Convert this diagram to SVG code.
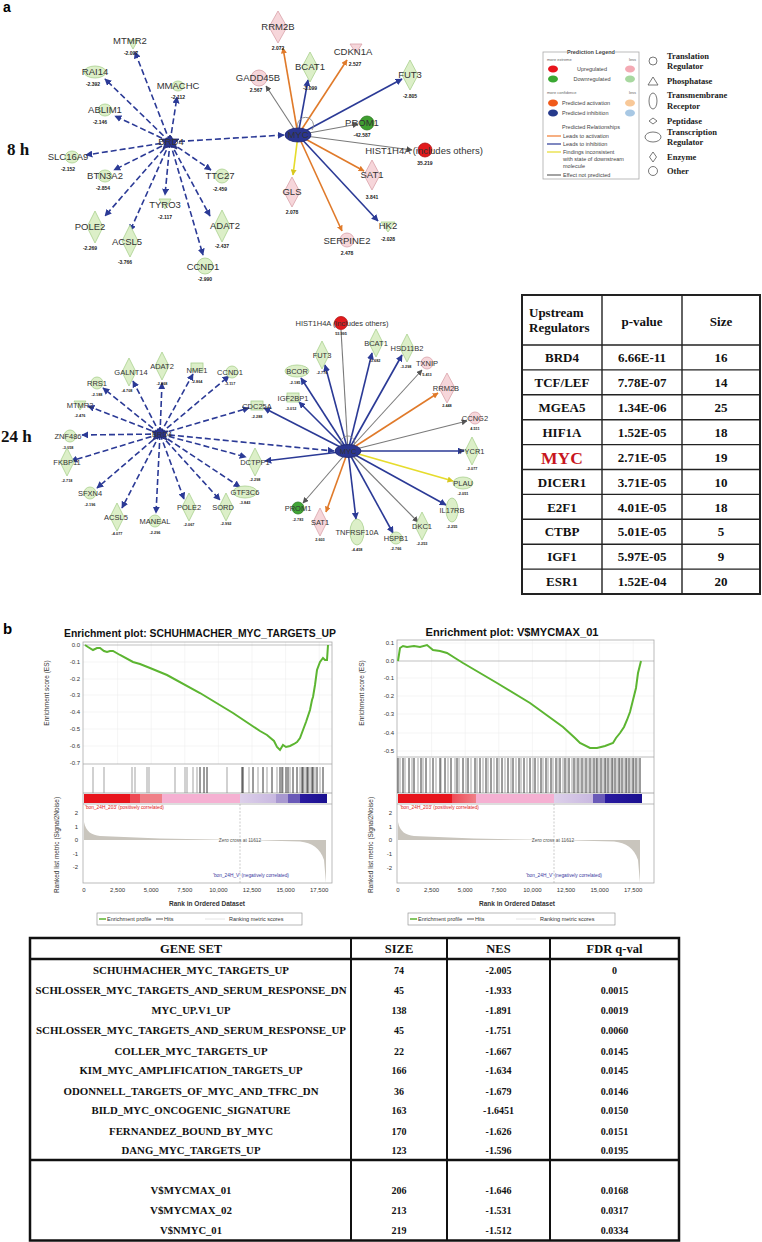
<svg xmlns="http://www.w3.org/2000/svg" width="762" height="1242" viewBox="0 0 762 1242">
<style>
.lbl{font-family:"Liberation Sans",Arial,sans-serif;font-size:9.5px;fill:#333;text-anchor:middle}
.val{font-family:"Liberation Sans",Arial,sans-serif;font-size:5px;font-weight:bold;fill:#222;text-anchor:middle}
.l24{font-family:"Liberation Sans",Arial,sans-serif;font-size:7.5px;fill:#333;text-anchor:middle}
.v24{font-family:"Liberation Sans",Arial,sans-serif;font-size:3.8px;font-weight:bold;fill:#222;text-anchor:middle}
.gn{fill:#dcefc8;stroke:#a9d08e;stroke-width:0.8}
.pk{fill:#f6d6da;stroke:#d9a2aa;stroke-width:0.8}
.hub{fill:#2a3590;stroke:#1c2570;stroke-width:0.8}
.ed{stroke:#2b3a96;stroke-width:1.6;stroke-dasharray:6 3;fill:none;marker-end:url(#ab)}
.eb{stroke:#2b3a96;stroke-width:1.6;fill:none;marker-end:url(#ab)}
.eg{stroke:#7a7a7a;stroke-width:1.1;fill:none;marker-end:url(#ag)}
.eo{stroke:#e07a2a;stroke-width:1.6;fill:none;marker-end:url(#ao)}
.ey{stroke:#e6dc2c;stroke-width:1.6;fill:none;marker-end:url(#ay)}
.big{font-family:"Liberation Serif","Times New Roman",serif;font-weight:bold;fill:#111}
.lg{font-family:"Liberation Sans",Arial,sans-serif;font-size:5.5px;fill:#444}
.lgs{font-family:"Liberation Sans",Arial,sans-serif;font-size:4px;fill:#666}
.sh{fill:none;stroke:#555;stroke-width:0.8}
.shl{font-family:"Liberation Serif","Times New Roman",serif;font-weight:bold;font-size:8.5px;fill:#222}
.tb{font-family:"Liberation Serif","Times New Roman",serif;font-weight:bold;fill:#111;text-anchor:middle}
.tk{font-family:"Liberation Sans",Arial,sans-serif;font-size:6px;fill:#333}
.ax{font-family:"Liberation Sans",Arial,sans-serif;font-size:6.5px;fill:#333;text-anchor:middle}
.ttl{font-family:"Liberation Sans",Arial,sans-serif;font-size:11px;font-weight:bold;fill:#111;text-anchor:middle}
.frame{fill:none;stroke:#aaa;stroke-width:0.8}
.grid{stroke:#eee;stroke-width:0.6}
</style>
<defs>
<marker id="ab" viewBox="0 0 10 10" refX="9" refY="5" markerWidth="7" markerHeight="7" orient="auto" markerUnits="userSpaceOnUse"><path d="M0,0L10,5L0,10z" fill="#2b3a96"/></marker>
<marker id="ag" viewBox="0 0 10 10" refX="9" refY="5" markerWidth="6" markerHeight="6" orient="auto" markerUnits="userSpaceOnUse"><path d="M0,0L10,5L0,10z" fill="#555"/></marker>
<marker id="ao" viewBox="0 0 10 10" refX="9" refY="5" markerWidth="6" markerHeight="6" orient="auto" markerUnits="userSpaceOnUse"><path d="M0,0L10,5L0,10z" fill="#e07a2a"/></marker>
<marker id="ay" viewBox="0 0 10 10" refX="9" refY="5" markerWidth="6" markerHeight="6" orient="auto" markerUnits="userSpaceOnUse"><path d="M0,0L10,5L0,10z" fill="#d8c820"/></marker>
<linearGradient id="barL" x1="0" x2="1" y1="0" y2="0">
<stop offset="0" stop-color="#e8141c"/><stop offset="0.19" stop-color="#e8141c"/><stop offset="0.19" stop-color="#ee4a55"/><stop offset="0.23" stop-color="#ee4a55"/><stop offset="0.23" stop-color="#f08088"/><stop offset="0.32" stop-color="#f08088"/><stop offset="0.32" stop-color="#f5b0d2"/><stop offset="0.64" stop-color="#f5b0d2"/><stop offset="0.64" stop-color="#ddd0ea"/><stop offset="0.79" stop-color="#c8b8e0"/><stop offset="0.79" stop-color="#a898d0"/><stop offset="0.84" stop-color="#a898d0"/><stop offset="0.84" stop-color="#6a5ab8"/><stop offset="0.89" stop-color="#6a5ab8"/><stop offset="0.89" stop-color="#2a1aa0"/><stop offset="1" stop-color="#1a1090"/>
</linearGradient>
<linearGradient id="barR" x1="0" x2="1" y1="0" y2="0">
<stop offset="0" stop-color="#e8141c"/><stop offset="0.22" stop-color="#e8141c"/><stop offset="0.22" stop-color="#ee4a55"/><stop offset="0.32" stop-color="#f08088"/><stop offset="0.32" stop-color="#f5b0d2"/><stop offset="0.64" stop-color="#f5b0d2"/><stop offset="0.64" stop-color="#ddd0ea"/><stop offset="0.8" stop-color="#c8b8e0"/><stop offset="0.8" stop-color="#6a5ab8"/><stop offset="0.85" stop-color="#6a5ab8"/><stop offset="0.85" stop-color="#2a1aa0"/><stop offset="1" stop-color="#1a1090"/>
</linearGradient>
</defs>
<rect width="762" height="1242" fill="#fff"/>

<!-- panel labels -->
<text x="3" y="12" font-family="Liberation Sans, Arial, sans-serif" font-size="14" font-weight="bold">a</text>
<text x="7" y="155" class="big" font-size="17">8 h</text>
<text x="1" y="442" class="big" font-size="17">24 h</text>
<text x="3" y="634" font-family="Liberation Sans, Arial, sans-serif" font-size="15" font-weight="bold">b</text>

<!-- ===== connectors ===== -->
<g id="connectors">
<!-- 8h BRD4 -->
<line class="ed" x1="170" y1="142" x2="135" y2="52"/>
<line class="ed" x1="170" y1="142" x2="105" y2="79"/>
<line class="ed" x1="170" y1="142" x2="177" y2="97"/>
<line class="ed" x1="170" y1="142" x2="115" y2="116"/>
<line class="ed" x1="170" y1="142" x2="86" y2="155"/>
<line class="ed" x1="170" y1="142" x2="114" y2="170"/>
<line class="ed" x1="170" y1="142" x2="165" y2="195"/>
<line class="ed" x1="170" y1="142" x2="105" y2="216"/>
<line class="ed" x1="170" y1="142" x2="130" y2="231"/>
<line class="ed" x1="170" y1="142" x2="210" y2="216"/>
<line class="ed" x1="170" y1="142" x2="203" y2="255"/>
<line class="ed" x1="170" y1="142" x2="211" y2="170"/>
<line class="ed" x1="170" y1="142" x2="284" y2="135"/>
<!-- 8h MYC -->
<line class="eo" x1="298" y1="135" x2="283" y2="48"/>
<line class="eo" x1="298" y1="135" x2="347" y2="60"/>
<line class="eg" x1="298" y1="135" x2="266" y2="86"/>
<line class="eb" x1="298" y1="135" x2="308" y2="80"/>
<line class="eb" x1="298" y1="135" x2="402" y2="79"/>
<line class="eg" x1="298" y1="135" x2="358" y2="124"/>
<line class="eg" x1="298" y1="135" x2="412" y2="150"/>
<line class="eo" x1="298" y1="135" x2="364" y2="171"/>
<line class="ey" x1="298" y1="135" x2="293" y2="175"/>
<line class="eb" x1="298" y1="135" x2="378" y2="221"/>
<line class="eo" x1="298" y1="135" x2="342" y2="231"/>
<path d="M299,130 A8,8 0 1 1 312,130" fill="none" stroke="#888" stroke-width="0.9"/>
<!-- 24h BRD4 -->
<line class="ed" x1="160" y1="434" x2="103" y2="388"/>
<line class="ed" x1="160" y1="434" x2="133" y2="381"/>
<line class="ed" x1="160" y1="434" x2="162" y2="383"/>
<line class="ed" x1="160" y1="434" x2="193" y2="374"/>
<line class="ed" x1="160" y1="434" x2="229" y2="376"/>
<line class="ed" x1="160" y1="434" x2="88" y2="406"/>
<line class="ed" x1="160" y1="434" x2="249" y2="408"/>
<line class="ed" x1="160" y1="434" x2="82" y2="435"/>
<line class="ed" x1="160" y1="434" x2="71" y2="461"/>
<line class="ed" x1="160" y1="434" x2="246" y2="457"/>
<line class="ed" x1="160" y1="434" x2="97" y2="488"/>
<line class="ed" x1="160" y1="434" x2="240" y2="487"/>
<line class="ed" x1="160" y1="434" x2="122" y2="508"/>
<line class="ed" x1="160" y1="434" x2="156" y2="513"/>
<line class="ed" x1="160" y1="434" x2="184" y2="499"/>
<line class="ed" x1="160" y1="434" x2="220" y2="500"/>
<line class="ed" x1="160" y1="434" x2="334" y2="451"/>
<!-- 24h MYC -->
<line class="eb" x1="348" y1="451" x2="264" y2="408"/>
<line class="eb" x1="348" y1="451" x2="265" y2="461"/>
<line x1="348" y1="451" x2="341" y2="330" stroke="#7a7a7a" stroke-width="1.1"/>
<line class="eb" x1="348" y1="451" x2="372" y2="353"/>
<line class="eb" x1="348" y1="451" x2="402" y2="355"/>
<line class="eb" x1="348" y1="451" x2="325" y2="365"/>
<line class="eg" x1="348" y1="451" x2="422" y2="370"/>
<line class="eb" x1="348" y1="451" x2="301" y2="378"/>
<line class="eo" x1="348" y1="451" x2="438" y2="393"/>
<line class="eb" x1="348" y1="451" x2="299" y2="402"/>
<line class="eg" x1="348" y1="451" x2="467" y2="421"/>
<line class="eb" x1="348" y1="451" x2="464" y2="451"/>
<line class="ey" x1="348" y1="451" x2="453" y2="481"/>
<line class="eb" x1="348" y1="451" x2="446" y2="505"/>
<line class="eg" x1="348" y1="451" x2="418" y2="522"/>
<line class="eb" x1="348" y1="451" x2="393" y2="533"/>
<line class="eb" x1="348" y1="451" x2="356" y2="519"/>
<line class="eo" x1="348" y1="451" x2="326" y2="512"/>
<line class="eg" x1="348" y1="451" x2="303" y2="503"/>
<path d="M342,447 A7,7 0 1 1 354,446" fill="none" stroke="#888" stroke-width="0.9"/>
</g>

<!-- ===== 8h nodes ===== -->
<g id="n8-BRD4"><path class="hub" d="M170,135 L173,139 L179,139 L175,143 L177,149 L170,146 L163,149 L165,143 L161,139 L167,139Z"/><text class="lbl" x="171" y="145" fill="#223">BRD4</text></g>
<g id="n8-MTMR2"><path class="gn" d="M128,40 L138,40 L133,49Z"/><text class="lbl" x="130" y="44">MTMR2</text><text class="val" x="131" y="55">-2.097</text></g>
<g id="n8-RAI14"><ellipse class="gn" cx="95" cy="72" rx="11" ry="6"/><text class="lbl" x="95" y="75">RAI14</text><text class="val" x="93" y="86">-2.392</text></g>
<g id="n8-MMACHC"><ellipse class="gn" cx="178" cy="86" rx="6" ry="5"/><text class="lbl" x="178" y="89">MMACHC</text><text class="val" x="178" y="99">-2.112</text></g>
<g id="n8-ABLIM1"><ellipse class="gn" cx="105" cy="110" rx="7" ry="6"/><text class="lbl" x="105" y="113">ABLIM1</text><text class="val" x="100" y="124">-2.146</text></g>
<g id="n8-SLC16A9"><ellipse class="gn" cx="72" cy="157" rx="7" ry="6"/><text class="lbl" x="68" y="160">SLC16A9</text><text class="val" x="68" y="171">-2.152</text></g>
<g id="n8-BTN3A2"><ellipse class="gn" cx="105" cy="176" rx="7" ry="6"/><text class="lbl" x="105" y="179">BTN3A2</text><text class="val" x="103" y="190">-2.854</text></g>
<g id="n8-TTC27"><circle class="gn" cx="222" cy="176" r="7"/><text class="lbl" x="220" y="179">TTC27</text><text class="val" x="220" y="191">-2.459</text></g>
<g id="n8-TYRO3"><path class="gn" d="M159,199 L171,199 L165,209Z"/><text class="lbl" x="165" y="208">TYRO3</text><text class="val" x="165" y="219">-2.117</text></g>
<g id="n8-POLE2"><polygon class="gn" points="95,211 103,227 95,243 87,227"/><text class="lbl" x="90" y="230">POLE2</text><text class="val" x="90" y="250">-2.269</text></g>
<g id="n8-ACSL5"><polygon class="gn" points="130,225 138,241 130,257 122,241"/><text class="lbl" x="127" y="245">ACSL5</text><text class="val" x="125" y="264">-3.766</text></g>
<g id="n8-ADAT2"><polygon class="gn" points="222,210 230,226 222,242 214,226"/><text class="lbl" x="225" y="229">ADAT2</text><text class="val" x="222" y="248">-2.437</text></g>
<g id="n8-CCND1"><circle class="gn" cx="205" cy="266" r="8"/><text class="lbl" x="203" y="270">CCND1</text><text class="val" x="205" y="281">-2.990</text></g>

<g id="n8-MYC"><ellipse class="hub" cx="298" cy="135" rx="13" ry="7"/><text class="lbl" x="298" y="138" fill="#111">MYC</text></g>
<g id="n8-RRM2B"><polygon class="pk" points="278,11 287,27 278,43 269,27"/><text class="lbl" x="278" y="30">RRM2B</text><text class="val" x="278" y="50">2.072</text></g>
<g id="n8-CDKN1A"><path class="pk" d="M350,44 L362,44 L356,53Z"/><text class="lbl" x="353" y="55">CDKN1A</text><text class="val" x="355" y="66">2.527</text></g>
<g id="n8-GADD45B"><circle class="pk" cx="259" cy="78" r="8"/><text class="lbl" x="258" y="81">GADD45B</text><text class="val" x="256" y="92">2.567</text></g>
<g id="n8-BCAT1"><polygon class="gn" points="310,52 318,67 310,82 302,67"/><text class="lbl" x="310" y="70">BCAT1</text><text class="val" x="310" y="90">-3.099</text></g>
<g id="n8-FUT3"><polygon class="gn" points="410,60 418,75 410,90 402,75"/><text class="lbl" x="410" y="78">FUT3</text><text class="val" x="410" y="98">-2.805</text></g>
<g id="n8-PROM1"><circle cx="367" cy="123" r="7" fill="#3f9f30" stroke="#2c7a20" stroke-width="0.8"/><text class="lbl" x="362" y="126">PROM1</text><text class="val" x="362" y="137">-42.587</text></g>
<g id="n8-HIST1H4A"><circle cx="425" cy="150" r="7" fill="#e21a1c" stroke="#b01010" stroke-width="0.8"/><text class="lbl" x="424" y="154">HIST1H4A (includes others)</text><text class="val" x="425" y="165">35.219</text></g>
<g id="n8-SAT1"><polygon class="pk" points="372,160 380,175 372,190 364,175"/><text class="lbl" x="372" y="178">SAT1</text><text class="val" x="372" y="199">3.841</text></g>
<g id="n8-GLS"><polygon class="pk" points="292,177 300,192 292,207 284,192"/><text class="lbl" x="292" y="195">GLS</text><text class="val" x="292" y="214">2.078</text></g>
<g id="n8-HK2"><path class="gn" d="M381,222 L395,222 L388,232Z"/><text class="lbl" x="388" y="229">HK2</text><text class="val" x="388" y="241">-2.028</text></g>
<g id="n8-SERPINE2"><circle class="pk" cx="347" cy="240" r="7"/><text class="lbl" x="347" y="244">SERPINE2</text><text class="val" x="347" y="255">2.478</text></g>

<!-- ===== IPA legend ===== -->
<g id="legend">
<rect x="543" y="52" width="96" height="127" fill="#fff" stroke="#aaa" stroke-width="0.8"/>
<rect x="567" y="49" width="48" height="6" fill="#fff"/>
<text x="591" y="54" class="lg" text-anchor="middle" font-weight="bold">Prediction Legend</text>
<text x="547" y="61" class="lgs">more extreme</text><text x="629" y="61" class="lgs">less</text>
<ellipse cx="553" cy="69" rx="5" ry="3.5" fill="#e8141c"/><text x="592" y="71" class="lg" text-anchor="middle">Upregulated</text><ellipse cx="630" cy="69" rx="5" ry="3.5" fill="#f4aab4"/>
<ellipse cx="553" cy="79" rx="5" ry="3.5" fill="#3aa832"/><text x="592" y="81" class="lg" text-anchor="middle">Downregulated</text><ellipse cx="630" cy="79" rx="5" ry="3.5" fill="#a8d8a0"/>
<text x="547" y="94" class="lgs">more confidence</text><text x="629" y="94" class="lgs">less</text>
<ellipse cx="553" cy="103" rx="5" ry="3.5" fill="#f05a1a"/><text x="562" y="105" class="lg">Predicted activation</text><ellipse cx="630" cy="103" rx="5" ry="3.5" fill="#f8c898"/>
<ellipse cx="553" cy="113" rx="5" ry="3.5" fill="#263a8c"/><text x="562" y="115" class="lg">Predicted inhibition</text><ellipse cx="630" cy="113" rx="5" ry="3.5" fill="#a8c8e4"/>
<text x="591" y="129" class="lg" text-anchor="middle">Predicted Relationships</text>
<line x1="547" y1="136" x2="561" y2="136" stroke="#f07a30" stroke-width="1.2"/><text x="563" y="138" class="lg">Leads to activation</text>
<line x1="547" y1="144" x2="561" y2="144" stroke="#2b3a96" stroke-width="1.2"/><text x="563" y="146" class="lg">Leads to inhibition</text>
<line x1="547" y1="152" x2="561" y2="152" stroke="#e6dc2c" stroke-width="1.2"/><text x="563" y="154" class="lg">Findings inconsistent</text>
<text x="563" y="161" class="lg">with state of downstream</text><text x="563" y="168" class="lg">molecule</text>
<line x1="547" y1="175" x2="561" y2="175" stroke="#666" stroke-width="1.2"/><text x="563" y="177" class="lg">Effect not predicted</text>
</g>
<g id="shape-legend">
<circle class="sh" cx="653" cy="61" r="4"/><text class="shl" x="667" y="59">Translation</text><text class="shl" x="667" y="69">Regulator</text>
<path class="sh" d="M648,85 L658,85 L653,77Z"/><text class="shl" x="667" y="84">Phosphatase</text>
<ellipse class="sh" cx="653" cy="101" rx="4" ry="8"/><text class="shl" x="667" y="98">Transmembrane</text><text class="shl" x="667" y="109">Receptor</text>
<path class="sh" d="M649,121 L653,118 L657,121 L653,124Z"/><text class="shl" x="667" y="124">Peptidase</text>
<ellipse class="sh" cx="653" cy="137" rx="8" ry="5"/><text class="shl" x="667" y="135">Transcription</text><text class="shl" x="667" y="145">Regulator</text>
<path class="sh" d="M653,152 L656.5,157 L653,162 L649.5,157Z"/><text class="shl" x="667" y="160">Enzyme</text>
<circle class="sh" cx="653" cy="171" r="4.5"/><text class="shl" x="667" y="174">Other</text>
</g>

<!-- ===== 24h nodes ===== -->
<g id="n24-BRD4"><path class="hub" d="M160,427 L163,431 L168,431 L165,435 L167,440 L160,437 L153,440 L155,435 L152,431 L157,431Z"/><text class="l24" x="162" y="437">BRD4</text></g>
<g id="n24-RRS1"><circle class="gn" cx="97" cy="383" r="6"/><text class="l24" x="97" y="386">RRS1</text><text class="v24" x="97" y="396">-2.188</text></g>
<g id="n24-GALNT14"><polygon class="gn" points="129,358 136,372 129,386 122,372"/><text class="l24" x="131" y="375">GALNT14</text><text class="v24" x="127" y="392">-4.708</text></g>
<g id="n24-ADAT2"><polygon class="gn" points="162,352 169,366 162,380 155,366"/><text class="l24" x="162" y="369">ADAT2</text><text class="v24" x="162" y="385">-2.868</text></g>
<g id="n24-NME1"><rect class="gn" x="191" y="363" width="12" height="8"/><text class="l24" x="197" y="373">NME1</text><text class="v24" x="197" y="383">-2.864</text></g>
<g id="n24-CCND1"><circle class="gn" cx="232" cy="372" r="6"/><text class="l24" x="230" y="375">CCND1</text><text class="v24" x="230" y="385">-3.117</text></g>
<g id="n24-MTMR2"><path class="gn" d="M74,401 L86,401 L80,410Z"/><text class="l24" x="80" y="408">MTMR2</text><text class="v24" x="80" y="417">-2.476</text></g>
<g id="n24-CDC25A"><rect class="gn" x="251" y="401" width="12" height="9"/><text class="l24" x="257" y="409">CDC25A</text><text class="v24" x="257" y="418">-2.288</text></g>
<g id="n24-ZNF486"><circle class="gn" cx="70" cy="436" r="6"/><text class="l24" x="68" y="439">ZNF486</text><text class="v24" x="68" y="449">-3.058</text></g>
<g id="n24-FKBP11"><polygon class="gn" points="67,448 74,462 67,476 60,462"/><text class="l24" x="67" y="465">FKBP11</text><text class="v24" x="67" y="482">-2.718</text></g>
<g id="n24-DCTPP1"><polygon class="gn" points="255,448 262,462 255,476 248,462"/><text class="l24" x="255" y="465">DCTPP1</text><text class="v24" x="255" y="481">-2.298</text></g>
<g id="n24-SFXN4"><circle class="gn" cx="90" cy="493" r="6"/><text class="l24" x="90" y="496">SFXN4</text><text class="v24" x="90" y="506">-2.196</text></g>
<g id="n24-GTF3C6"><ellipse class="gn" cx="245" cy="492" rx="12" ry="6"/><text class="l24" x="245" y="495">GTF3C6</text><text class="v24" x="245" y="504">-3.843</text></g>
<g id="n24-ACSL5"><polygon class="gn" points="117,503 124,517 117,531 110,517"/><text class="l24" x="116" y="520">ACSL5</text><text class="v24" x="117" y="535">-4.077</text></g>
<g id="n24-MANEAL"><circle class="gn" cx="155" cy="521" r="6"/><text class="l24" x="155" y="524">MANEAL</text><text class="v24" x="155" y="534">-2.296</text></g>
<g id="n24-POLE2"><polygon class="gn" points="189,493 196,507 189,521 182,507"/><text class="l24" x="189" y="510">POLE2</text><text class="v24" x="189" y="526">-2.067</text></g>
<g id="n24-SORD"><polygon class="gn" points="226,493 233,507 226,521 219,507"/><text class="l24" x="223" y="510">SORD</text><text class="v24" x="226" y="525">-2.992</text></g>

<g id="n24-MYC"><ellipse class="hub" cx="348" cy="451" rx="13" ry="6.5"/><text class="l24" x="348" y="454" fill="#111">MYC</text></g>
<g id="n24-HIST1H4A"><circle cx="341" cy="323" r="6.5" fill="#e21a1c" stroke="#b01010" stroke-width="0.8"/><text class="l24" x="342" y="326">HIST1H4A (includes others)</text><text class="v24" x="341" y="335">53.995</text></g>
<g id="n24-BCAT1"><polygon class="gn" points="376,329 383,343 376,357 369,343"/><text class="l24" x="376" y="346">BCAT1</text><text class="v24" x="375" y="362">-3.682</text></g>
<g id="n24-HSD11B2"><polygon class="gn" points="407,334 414,348 407,362 400,348"/><text class="l24" x="407" y="351">HSD11B2</text><text class="v24" x="406" y="368">-3.298</text></g>
<g id="n24-FUT3"><polygon class="gn" points="322,341 329,355 322,369 315,355"/><text class="l24" x="322" y="358">FUT3</text><text class="v24" x="322" y="374">-2.776</text></g>
<g id="n24-TXNIP"><circle class="pk" cx="427" cy="363" r="6"/><text class="l24" x="427" y="366">TXNIP</text><text class="v24" x="427" y="376">5.413</text></g>
<g id="n24-BCOR"><ellipse class="gn" cx="297" cy="371" rx="12" ry="6"/><text class="l24" x="297" y="374">BCOR</text><text class="v24" x="295" y="384">-2.185</text></g>
<g id="n24-RRM2B"><polygon class="pk" points="447,373 455,388 447,403 439,388"/><text class="l24" x="446" y="391">RRM2B</text><text class="v24" x="447" y="407">2.448</text></g>
<g id="n24-IGF2BP1"><rect class="gn" x="287" y="393" width="12" height="9"/><text class="l24" x="293" y="401">IGF2BP1</text><text class="v24" x="291" y="410">-3.012</text></g>
<g id="n24-CCNG2"><circle class="pk" cx="475" cy="418" r="6"/><text class="l24" x="475" y="421">CCNG2</text><text class="v24" x="475" y="430">4.511</text></g>
<g id="n24-PYCR1"><polygon class="gn" points="472,437 479,451 472,465 465,451"/><text class="l24" x="472" y="454">PYCR1</text><text class="v24" x="472" y="470">-2.077</text></g>
<g id="n24-PLAU"><ellipse class="gn" cx="463" cy="483" rx="10" ry="6"/><text class="l24" x="463" y="486">PLAU</text><text class="v24" x="463" y="495">-2.051</text></g>
<g id="n24-IL17RB"><ellipse class="gn" cx="452" cy="510" rx="6" ry="12"/><text class="l24" x="452" y="513">IL17RB</text><text class="v24" x="452" y="528">-2.255</text></g>
<g id="n24-PROM1"><circle cx="298" cy="508" r="6" fill="#41a535" stroke="#2c7a20" stroke-width="0.8"/><text class="l24" x="298" y="511">PROM1</text><text class="v24" x="298" y="521">-2.783</text></g>
<g id="n24-SAT1"><polygon class="pk" points="320,508 327,522 320,536 313,522"/><text class="l24" x="320" y="525">SAT1</text><text class="v24" x="320" y="541">2.603</text></g>
<g id="n24-TNFRSF10A"><ellipse class="gn" cx="357" cy="532" rx="7" ry="13"/><text class="l24" x="357" y="535">TNFRSF10A</text><text class="v24" x="357" y="551">-4.458</text></g>
<g id="n24-HSPB1"><circle class="gn" cx="396" cy="538" r="6"/><text class="l24" x="396" y="541">HSPB1</text><text class="v24" x="396" y="550">-2.766</text></g>
<g id="n24-DKC1"><polygon class="gn" points="422,512 429,526 422,540 415,526"/><text class="l24" x="422" y="529">DKC1</text><text class="v24" x="422" y="545">-2.253</text></g>

<!-- ===== Upstream regulators table ===== -->
<g id="upstream-table">
<rect x="522" y="295" width="238" height="299" fill="#fff" stroke="#222" stroke-width="2"/>
<g stroke="#222" stroke-width="1.4">
<line x1="602" y1="295" x2="602" y2="594"/><line x1="682" y1="295" x2="682" y2="594"/>
<line x1="522" y1="345" x2="760" y2="345"/><line x1="522" y1="369.9" x2="760" y2="369.9"/><line x1="522" y1="394.8" x2="760" y2="394.8"/><line x1="522" y1="419.7" x2="760" y2="419.7"/><line x1="522" y1="444.6" x2="760" y2="444.6"/><line x1="522" y1="469.5" x2="760" y2="469.5"/><line x1="522" y1="494.4" x2="760" y2="494.4"/><line x1="522" y1="519.3" x2="760" y2="519.3"/><line x1="522" y1="544.2" x2="760" y2="544.2"/><line x1="522" y1="569.1" x2="760" y2="569.1"/>
</g>
<text class="big" x="529" y="317" font-size="13">Upstream</text><text class="big" x="529" y="332" font-size="13">Regulators</text>
<text class="tb" x="642" y="326" font-size="13">p-value</text><text class="tb" x="721" y="326" font-size="13">Size</text>
<g class="tb" font-size="13">
<text x="562" y="362">BRD4</text><text x="642" y="362">6.66E-11</text><text x="721" y="362">16</text>
<text x="562" y="387">TCF/LEF</text><text x="642" y="387">7.78E-07</text><text x="721" y="387">14</text>
<text x="562" y="412">MGEA5</text><text x="642" y="412">1.34E-06</text><text x="721" y="412">25</text>
<text x="562" y="437">HIF1A</text><text x="642" y="437">1.52E-05</text><text x="721" y="437">18</text>
<text x="562" y="464" font-size="17.5" fill="#c8161d">MYC</text><text x="642" y="462">2.71E-05</text><text x="721" y="462">19</text>
<text x="562" y="487">DICER1</text><text x="642" y="487">3.71E-05</text><text x="721" y="487">10</text>
<text x="562" y="512">E2F1</text><text x="642" y="512">4.01E-05</text><text x="721" y="512">18</text>
<text x="562" y="536">CTBP</text><text x="642" y="536">5.01E-05</text><text x="721" y="536">5</text>
<text x="562" y="561">IGF1</text><text x="642" y="561">5.97E-05</text><text x="721" y="561">9</text>
<text x="562" y="586">ESR1</text><text x="642" y="586">1.52E-04</text><text x="721" y="586">20</text>
</g>
</g>

<!-- ===== Enrichment plot left ===== -->
<g id="gsea-left">
<text class="ttl" x="200" y="637" textLength="272" lengthAdjust="spacingAndGlyphs">Enrichment plot: SCHUHMACHER_MYC_TARGETS_UP</text>
<g class="grid"><line x1="117.6" y1="642" x2="117.6" y2="764"/><line x1="151.2" y1="642" x2="151.2" y2="764"/><line x1="184.8" y1="642" x2="184.8" y2="764"/><line x1="218.4" y1="642" x2="218.4" y2="764"/><line x1="252" y1="642" x2="252" y2="764"/><line x1="285.6" y1="642" x2="285.6" y2="764"/><line x1="319.2" y1="642" x2="319.2" y2="764"/>
<line x1="83" y1="662" x2="332" y2="662"/><line x1="83" y1="679" x2="332" y2="679"/><line x1="83" y1="695" x2="332" y2="695"/><line x1="83" y1="712" x2="332" y2="712"/><line x1="83" y1="729" x2="332" y2="729"/><line x1="83" y1="746" x2="332" y2="746"/></g>
<line x1="83" y1="645" x2="332" y2="645" stroke="#999" stroke-width="0.6"/>
<rect class="frame" x="83" y="642" width="249" height="241"/>
<line x1="83" y1="764" x2="332" y2="764" stroke="#aaa" stroke-width="0.8"/>
<line x1="83" y1="793" x2="332" y2="793" stroke="#999" stroke-width="0.8"/>
<line x1="83" y1="804" x2="332" y2="804" stroke="#aaa" stroke-width="0.8"/>
<path d="M85,645 L88,647 L93,650 L97,648 L100,648 L104,651 L107,652 L110,651 L113,651 L120,655 L133,662 L140,664 L150,668 L167,675 L200,693 L233,713 L260,731 L267,735 L274,741 L277,747 L280,750 L283,745 L286,747 L290,746 L294,744 L297,742 L300,738 L303,730 L306,722 L310,710 L312,700 L313,697 L315,685 L317,670 L320,662 L323,658 L325,660 L327,660 L328,645" fill="none" stroke="#5cb531" stroke-width="2"/>
<path d="M93,767v26M104,767v26M132,767v26M135,767v26M147,767v26M149,767v26M175,767v26M185,767v26M187,767v26M193,767v26M197,767v26M227,767v26M249,767v26M258,767v26M267,767v26M277,767v26M283,767v26M290,767v26M300,767v26M305,767v26M310,767v26M315,767v26M320,767v26" stroke="#999" stroke-width="0.9"/>
<path d="M200,767v26M204,767v26M207,767v26M242,767v26M243,767v26M253,767v26M263,767v26M272,767v26M280,767v26M282,767v26M286,767v26M288,767v26M293,767v26M297,767v26M302,767v26M303,767v26M307,767v26M308,767v26M312,767v26M313,767v26M317,767v26M323,767v26" stroke="#222" stroke-width="0.9"/>
<rect x="84" y="794" width="243" height="9" fill="url(#barL)"/>
<text x="85" y="809" font-family="Liberation Sans, Arial, sans-serif" font-size="4.8" fill="#e02020">'bon_24H_203' (positively correlated)</text>
<path d="M84,840 L84,822 C86,832 92,835 100,836 L160,838.5 L240,840 L300,841.5 C312,843 320,848 324,860 L326,883 L326,840 Z" fill="#c9c5bd"/>
<line x1="240" y1="804" x2="240" y2="883" stroke="#aaa" stroke-width="0.6" stroke-dasharray="2 1.5"/>
<text x="240" y="842" font-family="Liberation Sans, Arial, sans-serif" font-size="4.8" fill="#555" text-anchor="middle">Zero cross at 11612</text>
<text x="213" y="877" font-family="Liberation Sans, Arial, sans-serif" font-size="4.8" fill="#3838a0">'bon_24H_V' (negatively correlated)</text>
<g class="tk" text-anchor="end"><text x="80" y="647">0.0</text><text x="80" y="664">-0.1</text><text x="80" y="681">-0.2</text><text x="80" y="697">-0.3</text><text x="80" y="714">-0.4</text><text x="80" y="731">-0.5</text><text x="80" y="748">-0.6</text><text x="80" y="765">-0.7</text>
<text x="78" y="815">2</text><text x="78" y="829">1</text><text x="78" y="842">0</text><text x="78" y="856">-1</text><text x="78" y="869">-2</text></g>
<g class="tk" text-anchor="middle"><text x="84" y="892">0</text><text x="117.6" y="892">2,500</text><text x="151.2" y="892">5,000</text><text x="184.8" y="892">7,500</text><text x="218.4" y="892">10,000</text><text x="252" y="892">12,500</text><text x="285.6" y="892">15,000</text><text x="319.2" y="892">17,500</text></g>
<text class="ax" x="207" y="906" font-weight="bold" font-size="7">Rank in Ordered Dataset</text>
<text class="ax" transform="translate(49,693) rotate(-90)">Enrichment score (ES)</text>
<text class="ax" transform="translate(59,845) rotate(-90)">Ranked list metric (Signal2Noise)</text>
<rect x="97" y="913" width="205" height="12" fill="#fff" stroke="#888" stroke-width="0.6"/>
<line x1="99" y1="919" x2="106" y2="919" stroke="#5cb531" stroke-width="1.5"/><text x="107" y="921" font-family="Liberation Sans, Arial, sans-serif" font-size="5.5" fill="#333">Enrichment profile</text>
<line x1="156" y1="919" x2="163" y2="919" stroke="#333" stroke-width="0.8"/><text x="164" y="921" font-family="Liberation Sans, Arial, sans-serif" font-size="5.5" fill="#333">Hits</text>
<line x1="205" y1="919" x2="225" y2="919" stroke="#ddd" stroke-width="0.8"/><text x="229" y="921" font-family="Liberation Sans, Arial, sans-serif" font-size="5.5" fill="#333">Ranking metric scores</text>
</g>

<!-- ===== Enrichment plot right ===== -->
<g id="gsea-right">
<text class="ttl" x="512" y="636" textLength="173" lengthAdjust="spacingAndGlyphs">Enrichment plot: V$MYCMAX_01</text>
<g class="grid"><line x1="431.6" y1="640" x2="431.6" y2="757"/><line x1="465.2" y1="640" x2="465.2" y2="757"/><line x1="498.8" y1="640" x2="498.8" y2="757"/><line x1="532.4" y1="640" x2="532.4" y2="757"/><line x1="566" y1="640" x2="566" y2="757"/><line x1="599.6" y1="640" x2="599.6" y2="757"/><line x1="633.2" y1="640" x2="633.2" y2="757"/>
<line x1="397" y1="643" x2="654" y2="643"/><line x1="397" y1="678" x2="654" y2="678"/><line x1="397" y1="696" x2="654" y2="696"/><line x1="397" y1="714" x2="654" y2="714"/><line x1="397" y1="733" x2="654" y2="733"/><line x1="397" y1="751" x2="654" y2="751"/></g>
<line x1="397" y1="661" x2="654" y2="661" stroke="#999" stroke-width="0.6"/>
<rect class="frame" x="397" y="640" width="257" height="243"/>
<line x1="397" y1="757" x2="654" y2="757" stroke="#aaa" stroke-width="0.8"/>
<line x1="397" y1="793" x2="654" y2="793" stroke="#999" stroke-width="0.8"/>
<line x1="397" y1="804" x2="654" y2="804" stroke="#aaa" stroke-width="0.8"/>
<path d="M398,661 L400,648 L403,646 L407,647 L414,646 L420,647 L427,645 L433,650 L440,651 L447,653 L455,658 L463,663 L497,683 L530,703 L563,727 L575,738 L580,743 L590,748 L597,748 L605,746 L613,743 L616,738 L620,733 L624,727 L627,720 L630,712 L633,700 L636,688 L638,673 L640,665 L641,661" fill="none" stroke="#5cb531" stroke-width="2"/>
<path d="M400,758v35M405,758v35M412,758v35M418,758v35M423,758v35M430,758v35M436,758v35M441,758v35M448,758v35M455,758v35M459,758v35M466,758v35M471,758v35M477,758v35M483,758v35M488,758v35M494,758v35M499,758v35M505,758v35M511,758v35M516,758v35M521,758v35M527,758v35M533,758v35M538,758v35M543,758v35M548,758v35M553,758v35M558,758v35M563,758v35M567,758v35M572,758v35M576,758v35M580,758v35M584,758v35M588,758v35M592,758v35M596,758v35M599,758v35M603,758v35M606,758v35M610,758v35M613,758v35M617,758v35M620,758v35M624,758v35M627,758v35M631,758v35M634,758v35M638,758v35" stroke="#999" stroke-width="0.9"/>
<path d="M398,758v35M403,758v35M409,758v35M414,758v35M421,758v35M426,758v35M433,758v35M440,758v35M445,758v35M451,758v35M457,758v35M463,758v35M468,758v35M475,758v35M480,758v35M486,758v35M491,758v35M497,758v35M502,758v35M508,758v35M513,758v35M519,758v35M524,758v35M530,758v35M535,758v35M541,758v35M546,758v35M551,758v35M556,758v35M560,758v35M565,758v35M569,758v35M574,758v35M578,758v35M582,758v35M586,758v35M590,758v35M594,758v35M597,758v35M601,758v35M605,758v35M608,758v35M612,758v35M615,758v35M619,758v35M622,758v35M626,758v35M629,758v35M633,758v35M636,758v35M640,758v35" stroke="#222" stroke-width="0.9"/>
<rect x="398" y="794" width="244" height="9" fill="url(#barR)"/>
<text x="400" y="809" font-family="Liberation Sans, Arial, sans-serif" font-size="4.8" fill="#e02020">'bon_24H_203' (positively correlated)</text>
<path d="M398,840 L398,822 C400,832 406,835 414,836 L474,838.5 L554,840 L614,841.5 C626,843 634,848 638,860 L640,883 L640,840 Z" fill="#c9c5bd"/>
<line x1="554" y1="804" x2="554" y2="883" stroke="#aaa" stroke-width="0.6" stroke-dasharray="2 1.5"/>
<text x="553" y="842" font-family="Liberation Sans, Arial, sans-serif" font-size="4.8" fill="#555" text-anchor="middle">Zero cross at 11612</text>
<text x="526" y="877" font-family="Liberation Sans, Arial, sans-serif" font-size="4.8" fill="#3838a0">'bon_24H_V' (negatively correlated)</text>
<g class="tk" text-anchor="end"><text x="394" y="645">0.1</text><text x="394" y="663">0.0</text><text x="394" y="680">-0.1</text><text x="394" y="698">-0.2</text><text x="394" y="716">-0.3</text><text x="394" y="735">-0.4</text><text x="394" y="753">-0.5</text>
<text x="392" y="815">2</text><text x="392" y="829">1</text><text x="392" y="842">0</text><text x="392" y="856">-1</text><text x="392" y="870">-2</text></g>
<g class="tk" text-anchor="middle"><text x="398" y="892">0</text><text x="431.6" y="892">2,500</text><text x="465.2" y="892">5,000</text><text x="498.8" y="892">7,500</text><text x="532.4" y="892">10,000</text><text x="566" y="892">12,500</text><text x="599.6" y="892">15,000</text><text x="633.2" y="892">17,500</text></g>
<text class="ax" x="517" y="906" font-weight="bold" font-size="7">Rank in Ordered Dataset</text>
<text class="ax" transform="translate(364,693) rotate(-90)">Enrichment score (ES)</text>
<text class="ax" transform="translate(373,845) rotate(-90)">Ranked list metric (Signal2Noise)</text>
<rect x="408" y="913" width="207" height="12" fill="#fff" stroke="#888" stroke-width="0.6"/>
<line x1="410" y1="919" x2="417" y2="919" stroke="#5cb531" stroke-width="1.5"/><text x="418" y="921" font-family="Liberation Sans, Arial, sans-serif" font-size="5.5" fill="#333">Enrichment profile</text>
<line x1="467" y1="919" x2="474" y2="919" stroke="#333" stroke-width="0.8"/><text x="475" y="921" font-family="Liberation Sans, Arial, sans-serif" font-size="5.5" fill="#333">Hits</text>
<line x1="516" y1="919" x2="536" y2="919" stroke="#ddd" stroke-width="0.8"/><text x="540" y="921" font-family="Liberation Sans, Arial, sans-serif" font-size="5.5" fill="#333">Ranking metric scores</text>
</g>

<!-- ===== Gene set table ===== -->
<g id="geneset-table">
<rect x="30" y="938" width="649" height="302.5" fill="#fff" stroke="#111" stroke-width="2.5"/>
<g stroke="#111" stroke-width="2"><line x1="351" y1="938" x2="351" y2="1240"/><line x1="447" y1="938" x2="447" y2="1240"/><line x1="550" y1="938" x2="550" y2="1240"/></g>
<line x1="30" y1="959" x2="679" y2="959" stroke="#111" stroke-width="2.5"/>
<line x1="30" y1="1160" x2="679" y2="1160" stroke="#111" stroke-width="2.5"/>
<g class="tb" font-size="12.5"><text x="191" y="953">GENE SET</text><text x="399" y="953">SIZE</text><text x="498.5" y="953">NES</text><text x="614.5" y="953">FDR q-val</text></g>
<g class="tb" font-size="10">
<text x="191" y="974" textLength="196" lengthAdjust="spacingAndGlyphs">SCHUHMACHER_MYC_TARGETS_UP</text><text x="399" y="974">74</text><text x="498.5" y="974">-2.005</text><text x="614.5" y="974">0</text>
<text x="191" y="994" textLength="311" lengthAdjust="spacingAndGlyphs">SCHLOSSER_MYC_TARGETS_AND_SERUM_RESPONSE_DN</text><text x="399" y="994">45</text><text x="498.5" y="994">-1.933</text><text x="614.5" y="994">0.0015</text>
<text x="191" y="1014" textLength="79" lengthAdjust="spacingAndGlyphs">MYC_UP.V1_UP</text><text x="399" y="1014">138</text><text x="498.5" y="1014">-1.891</text><text x="614.5" y="1014">0.0019</text>
<text x="191" y="1034" textLength="310" lengthAdjust="spacingAndGlyphs">SCHLOSSER_MYC_TARGETS_AND_SERUM_RESPONSE_UP</text><text x="399" y="1034">45</text><text x="498.5" y="1034">-1.751</text><text x="614.5" y="1034">0.0060</text>
<text x="191" y="1055" textLength="153" lengthAdjust="spacingAndGlyphs">COLLER_MYC_TARGETS_UP</text><text x="399" y="1055">22</text><text x="498.5" y="1055">-1.667</text><text x="614.5" y="1055">0.0145</text>
<text x="191" y="1074" textLength="223" lengthAdjust="spacingAndGlyphs">KIM_MYC_AMPLIFICATION_TARGETS_UP</text><text x="399" y="1074">166</text><text x="498.5" y="1074">-1.634</text><text x="614.5" y="1074">0.0145</text>
<text x="191" y="1095" textLength="255" lengthAdjust="spacingAndGlyphs">ODONNELL_TARGETS_OF_MYC_AND_TFRC_DN</text><text x="399" y="1095">36</text><text x="498.5" y="1095">-1.679</text><text x="614.5" y="1095">0.0146</text>
<text x="191" y="1114" textLength="199" lengthAdjust="spacingAndGlyphs">BILD_MYC_ONCOGENIC_SIGNATURE</text><text x="399" y="1114">163</text><text x="498.5" y="1114">-1.6451</text><text x="614.5" y="1114">0.0150</text>
<text x="191" y="1135" textLength="164" lengthAdjust="spacingAndGlyphs">FERNANDEZ_BOUND_BY_MYC</text><text x="399" y="1135">170</text><text x="498.5" y="1135">-1.626</text><text x="614.5" y="1135">0.0151</text>
<text x="191" y="1154" textLength="139" lengthAdjust="spacingAndGlyphs">DANG_MYC_TARGETS_UP</text><text x="399" y="1154">123</text><text x="498.5" y="1154">-1.596</text><text x="614.5" y="1154">0.0195</text>
<text x="191" y="1194" textLength="81" lengthAdjust="spacingAndGlyphs">V$MYCMAX_01</text><text x="399" y="1194">206</text><text x="498.5" y="1194">-1.646</text><text x="614.5" y="1194">0.0168</text>
<text x="191" y="1214" textLength="82" lengthAdjust="spacingAndGlyphs">V$MYCMAX_02</text><text x="399" y="1214">213</text><text x="498.5" y="1214">-1.531</text><text x="614.5" y="1214">0.0317</text>
<text x="191" y="1234" textLength="62" lengthAdjust="spacingAndGlyphs">V$NMYC_01</text><text x="399" y="1234">219</text><text x="498.5" y="1234">-1.512</text><text x="614.5" y="1234">0.0334</text>
</g>
</g>
</svg>
